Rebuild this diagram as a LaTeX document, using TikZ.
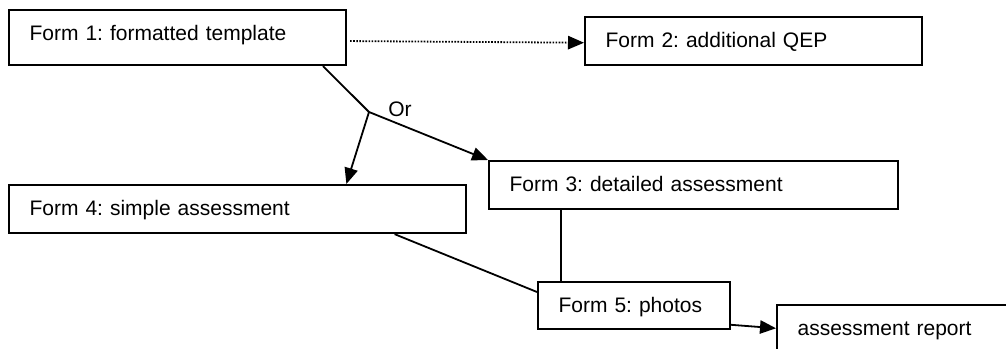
\documentclass[tikz,border=0pt]{standalone}
\usepackage{fontspec}
\setmainfont{Liberation Sans}
\usetikzlibrary{arrows.meta,calc}
\frenchspacing
\tikzset{
  formbox/.style={draw=black, line width=1.6pt, anchor=north west, inner xsep=15.375pt, inner ysep=0pt,
    align=left, text height=22.875pt, font=\fontsize{15.75}{18}\selectfont},
  conn/.style={line width=1.35pt, draw=black},
  arr/.style={conn, -{Triangle[length=12pt,width=10pt]}},
  dotline/.style={arr, dash pattern=on 1.2pt off 1.1pt}
}
\begin{document}
\begin{tikzpicture}[x=0.75pt,y=-0.75pt]
\fill[white] (0,0) rectangle (1006,349);
\node[formbox, text width=222pt, text depth=18.375pt] (B1) at (8,9) {Form 1: formatted template};
\node[formbox, text width=222pt, text depth=13.125pt] (B2) at (584,16) {Form 2: additional QEP};
\node[formbox, text width=276pt, text depth=13.125pt] (B3) at (488,160) {Form 3: detailed assessment};
\node[formbox, text width=312pt, text depth=13.125pt] (B4) at (8,184) {Form 4: simple assessment};
\node[formbox, text width=113.25pt, text depth=12.375pt] (B5) at (537,281) {Form 5: photos};
\begin{scope}
\clip (0,0) rectangle (1006,349);
\node[formbox, text width=220pt, text depth=40pt] (R) at (776,304) {assessment report};
\end{scope}
\node[inner sep=0pt, font=\fontsize{15.75}{18}\selectfont] (or) at (400,109) {Or};
\coordinate (J) at (369,112);
% dotted arrow
\draw[dotline] ([xshift=2.25pt]B1.east |- B2.west) -- ([yshift=-1.25pt]B2.west);
% branching
\draw[conn] ($(B1.south west)!0.929!(B1.south east)$) -- (J);
\draw[arr] (J) -- ($(B4.north west)!0.737!(B4.north east)$);
\draw[arr] (J) -- (B3.north west);
% to form 5
\draw[conn] ([xshift=18pt]B5.north west) -- ([xshift=18pt]B5.north west |- B3.south);
\draw[conn] ($(B4.south west)!0.842!(B4.south east)$) -- ([yshift=-8.25pt]B5.north west);
\draw[arr] ([yshift=4pt]B5.south east) -- ([yshift=-18.2pt]R.north west);
\pgfresetboundingbox
\useasboundingbox (0,0) rectangle (1006,349);
\end{tikzpicture}
\end{document}
